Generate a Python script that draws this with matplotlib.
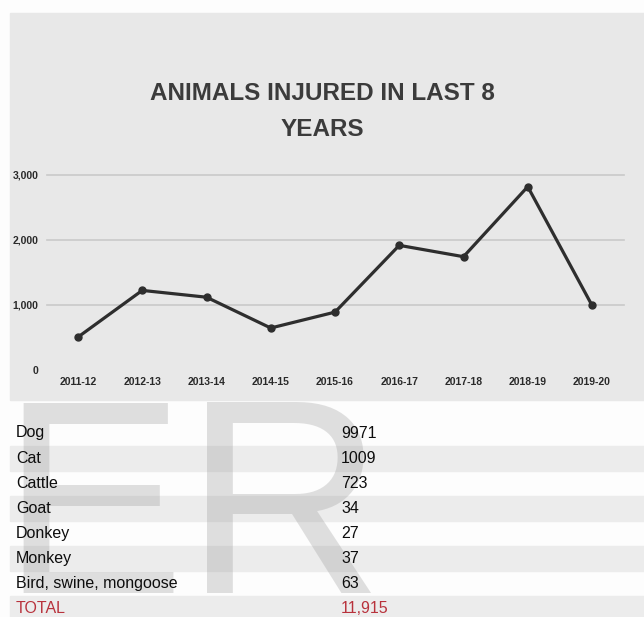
import matplotlib
matplotlib.use("Agg")
import matplotlib.pyplot as plt
from matplotlib.patches import Rectangle

# chart data
years = ['2011-12', '2012-13', '2013-14', '2014-15', '2015-16',
         '2016-17', '2017-18', '2018-19', '2019-20']
injured = [500, 1220, 1115, 640, 885, 1915, 1740, 2820, 990]
y_ticks = [0, 1000, 2000, 3000]

# table data
animals = ['Dog', 'Cat', 'Cattle', 'Goat', 'Donkey', 'Monkey', 'Bird, swine, mongoose']
counts = [9971, 1009, 723, 34, 27, 37, 63]
total_label = 'TOTAL'
total_value = '11,915'

W, H = 644, 617
font = ['Liberation Sans', 'DejaVu Sans']

fig = plt.figure(figsize=(W / 100, H / 100), dpi=100)
fig.patch.set_facecolor('#fdfdfd')

# background layer in pixel coordinates
bg = fig.add_axes([0, 0, 1, 1])
bg.set_xlim(0, W)
bg.set_ylim(H, 0)
bg.axis('off')

# grey panel behind the chart
bg.add_patch(Rectangle((10, 13), W - 10, 387, color='#e8e8e8', zorder=0))

# striped table rows
row0, pitch = 433, 25.1
rows = animals + [total_label]
for i in range(len(rows)):
    yc = row0 + i * pitch
    if i % 2 == 1:
        bg.add_patch(Rectangle((10, yc - pitch / 2), W - 10, pitch,
                               color='#ececec', zorder=0))

# watermark
bg.text(0, 593, 'ER', fontsize=199, family=font, color='#999999',
        alpha=0.3, va='baseline', ha='left', zorder=1)

# table text
tsize = 11.5
for i, (name, n) in enumerate(zip(animals, counts)):
    yc = row0 + i * pitch
    bg.text(16, yc, name, fontsize=tsize, family=font, color='#0d0d0d',
            va='center', ha='left', zorder=2)
    bg.text(341, yc, str(n), fontsize=tsize, family=font, color='#0d0d0d',
            va='center', ha='left', zorder=2)
yc = row0 + len(animals) * pitch
bg.text(16, yc, total_label, fontsize=tsize, family=font, color='#b8323c',
        va='center', ha='left', zorder=2)
bg.text(341, yc, total_value, fontsize=tsize, family=font, color='#b8323c',
        va='center', ha='left', zorder=2)

# title
bg.text(322, 93.5, 'ANIMALS INJURED IN LAST 8', fontsize=17.5, family=font,
        fontweight='bold', color='#3b3b3b', ha='center', va='center')
bg.text(322, 130, 'YEARS', fontsize=17.5, family=font,
        fontweight='bold', color='#3b3b3b', ha='center', va='center')

# line chart
left, right, top, bottom = 47, 624, 175, 369.5
ax = fig.add_axes([left / W, 1 - bottom / H, (right - left) / W, (bottom - top) / H])
ax.patch.set_alpha(0)
x = list(range(len(years)))
ax.plot(x, injured, color='#2e2e2e', lw=2.3, marker='o', ms=5, zorder=3)
ax.set_xlim(-(78 - left) / 64.25, (right - 78) / 64.25)
ax.set_ylim(0, 3000)
ax.set_xticks(x)
ax.set_xticklabels(years, family=font, fontweight='bold', fontsize=7.5, color='#2a2a2a')
ax.set_yticks(y_ticks)
ax.set_yticklabels(['{:,}'.format(v) for v in y_ticks], family=font,
                   fontweight='bold', fontsize=7.5, color='#2a2a2a')
ax.tick_params(axis='both', length=0)
ax.tick_params(axis='y', pad=6)
ax.tick_params(axis='x', pad=5.5)
ax.yaxis.grid(True, color='#c9c9c9', lw=1.2)
ax.get_ygridlines()[0].set_visible(False)
for g in ax.get_ygridlines():
    g.set_clip_on(False)
for s in ax.spines.values():
    s.set_visible(False)

fig.savefig('out.png', dpi=100)
